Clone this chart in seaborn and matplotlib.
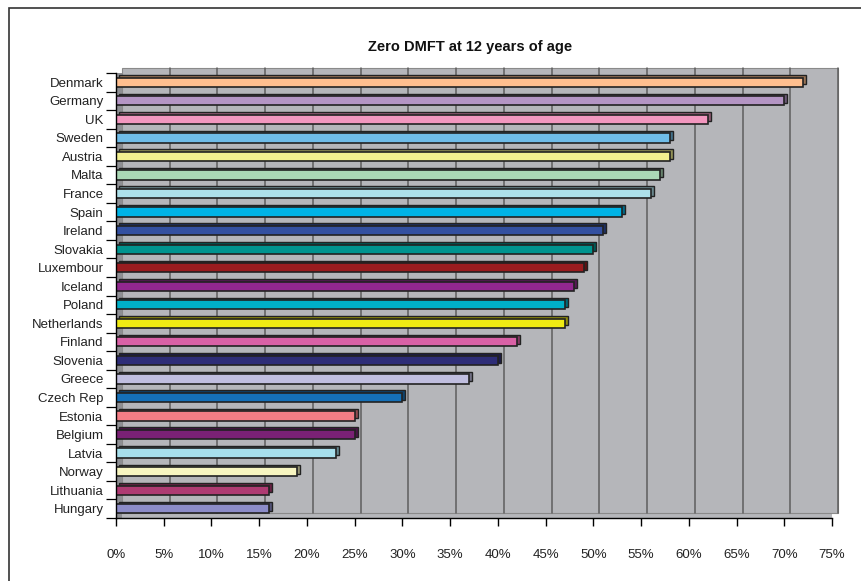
import numpy as np
import pandas as pd
import seaborn as sns
import matplotlib.pyplot as plt
from matplotlib.patches import Rectangle
from matplotlib.transforms import ScaledTranslation
from matplotlib.ticker import FixedLocator, PercentFormatter

countries = ["Denmark", "Germany", "UK", "Sweden", "Austria", "Malta", "France", "Spain",
             "Ireland", "Slovakia", "Luxembour", "Iceland", "Poland", "Netherlands", "Finland",
             "Slovenia", "Greece", "Czech Rep", "Estonia", "Belgium", "Latvia", "Norway",
             "Lithuania", "Hungary"]
zero_dmft = [72, 70, 62, 58, 58, 57, 56, 53, 51, 50, 49, 48, 47, 47, 42, 40, 37, 30,
             25, 25, 23, 19, 16, 16]
bar_colors = ["#FFBF8F", "#B495C4", "#F297BF", "#6FBCE8", "#F2F08F", "#ABD8B6", "#ADE0EA",
              "#00B3E6", "#3350A0", "#00948F", "#9A1C1F", "#92278F", "#00B0C8", "#F0EB13",
              "#D961A6", "#2E2D77", "#C0BEDF", "#1570B8", "#F57D85", "#7A2175", "#A7DFEC",
              "#F7F5C0", "#AE3B72", "#8C8CC8"]
x_ticks = [0, 5, 10, 15, 20, 25, 30, 35, 40, 45, 50, 55, 60, 65, 70, 75]

df = pd.DataFrame({"country": countries, "value": zero_dmft})
palette = dict(zip(countries, bar_colors))
dark_palette = {c: tuple(np.array(plt.matplotlib.colors.to_rgb(col)) * 0.6)
                for c, col in palette.items()}

sns.set_style("white")
plt.rcParams["font.family"] = ["Liberation Sans Narrow", "Liberation Sans", "DejaVu Sans"]

fig = plt.figure(figsize=(8.61, 5.81), dpi=100)
ax = fig.add_axes([116 / 861, 63 / 581, 716 / 861, 445 / 581])
wall = "#B5B6BA"
ax.set_facecolor(wall)

# back wall + gridlines pushed back for the 3D look
depth = ScaledTranslation(6 / 100, 5 / 100, fig.dpi_scale_trans)
back = Rectangle((0, 0), 1, 1, transform=ax.transAxes + depth, facecolor=wall,
                 edgecolor="#8a8a8a", lw=0.8, clip_on=False, zorder=0)
ax.add_patch(back)
ax.add_patch(Rectangle((0, 0), 6 / 716, 1, transform=ax.transAxes, facecolor="#8e8f93",
                       edgecolor="none", zorder=0.5))
for v in x_ticks[1:]:
    ln = ax.axvline(v, color="#5e5e5e", lw=1.1, zorder=1)
    ln.set_transform(ln.get_transform() + depth)
    ln.set_clip_on(False)

# depth faces of the bars
n0 = len(ax.patches)
sns.barplot(data=df, x="value", y="country", hue="country", palette=dark_palette,
            legend=False, orient="h", width=0.5, edgecolor="#222222", linewidth=1,
            saturation=1, ax=ax, zorder=2)
side = ScaledTranslation(3 / 100, 2.5 / 100, fig.dpi_scale_trans)
for p in ax.patches[n0:]:
    p.set_transform(ax.transData + side)
    p.set_clip_on(False)

sns.barplot(data=df, x="value", y="country", hue="country", palette=palette,
            legend=False, orient="h", width=0.5, edgecolor="#222222", linewidth=1.2,
            saturation=1, ax=ax, zorder=3)

ax.set_xlim(0, 75)
ax.set_ylim(len(countries) - 0.5, -0.5)
ax.set_xticks(x_ticks)
ax.xaxis.set_major_formatter(PercentFormatter(decimals=0))
ax.tick_params(axis="x", direction="out", length=6, width=1, color="black",
               pad=16, labelsize=9.5, bottom=True, labelcolor="#222222")
ax.yaxis.set_minor_locator(FixedLocator(np.arange(-0.5, len(countries), 1.0)))
ax.tick_params(axis="y", which="major", length=0, pad=9, labelsize=9.5, left=True,
               labelcolor="#222222")
ax.tick_params(axis="y", which="minor", length=7, width=0.9, color="black", left=True)
ax.set_xlabel("")
ax.set_ylabel("")
for s in ["top", "right"]:
    ax.spines[s].set_visible(False)
for s in ["left", "bottom"]:
    ax.spines[s].set_color("black")
    ax.spines[s].set_linewidth(1)
    ax.spines[s].set_zorder(4)

fig.text(470 / 861, 1 - 47 / 581, "Zero DMFT at 12 years of age", ha="center",
         va="center", fontsize=10.5, fontweight="bold", color="#111111",
         family=["Liberation Sans", "DejaVu Sans"])

fig.patches.append(Rectangle((9 / 861, -0.1), 2, 1.1 - 8 / 581, transform=fig.transFigure,
                             fill=False, edgecolor="#333333", lw=1.2))

fig.savefig("out.png", dpi=100)
